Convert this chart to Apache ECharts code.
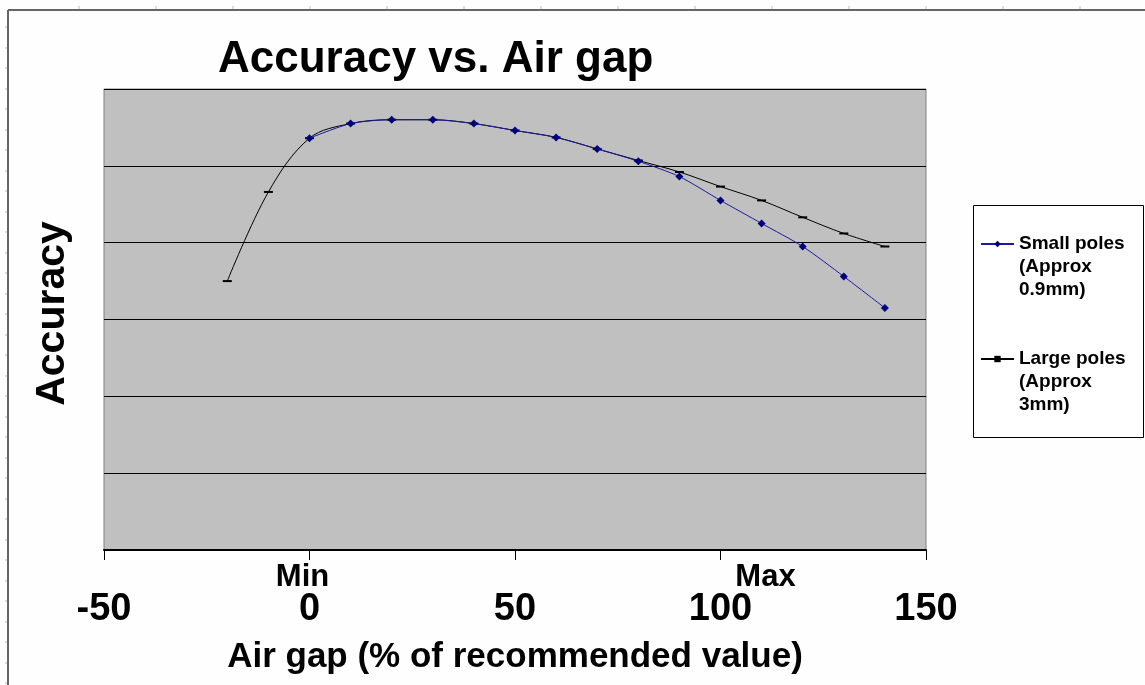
<!DOCTYPE html>
<html>
<head>
<meta charset="utf-8">
<script src="https://cdn.jsdelivr.net/npm/echarts@6/dist/echarts.min.js"></script>
<style>
html,body{margin:0;padding:0;background:#fefefe;}
#c{width:1145px;height:685px;}
</style>
</head>
<body>
<div id="c"></div>
<script>
// ---- data ----
const chartTitle = 'Accuracy vs. Air gap';
const xName = 'Air gap (% of recommended value)';
const yName = 'Accuracy';
const xTickNotes = { 0: 'Min', 100: 'Max' };
const smallName = 'Small poles\n(Approx\n0.9mm)';
const largeName = 'Large poles\n(Approx\n3mm)';
const largeX = [-20, -10, 0, 10, 20, 30, 40, 50, 60, 70, 80, 90, 100, 110, 120, 130, 140];
const largeY = [35.0, 46.6, 53.6, 55.5, 56.0, 56.0, 55.5, 54.6, 53.7, 52.2, 50.7, 49.2, 47.3, 45.5, 43.3, 41.2, 39.5];
const smallX = [0, 10, 20, 30, 40, 50, 60, 70, 80, 90, 100, 110, 120, 130, 140];
const smallY = [53.6, 55.5, 56.0, 56.0, 55.5, 54.6, 53.7, 52.2, 50.6, 48.6, 45.5, 42.5, 39.5, 35.6, 31.5];

const FONT = '"Liberation Sans", Arial, sans-serif';
const chart = echarts.init(document.getElementById('c'), null, { renderer: 'canvas' });

const graphics = [];
// outer frame
graphics.push({ type: 'line', shape: { x1: 8, y1: 10, x2: 1145, y2: 10 }, style: { stroke: '#666', lineWidth: 2 }, silent: true });
graphics.push({ type: 'line', shape: { x1: 8, y1: 10, x2: 8, y2: 685 }, style: { stroke: '#666', lineWidth: 2 }, silent: true });
for (let x = 79; x < 1145; x += 77) {
  graphics.push({ type: 'line', shape: { x1: x, y1: 6, x2: x, y2: 9 }, style: { stroke: '#bbb', lineWidth: 1 }, silent: true });
}
for (let y = 27; y < 685; y += 20.5) {
  graphics.push({ type: 'line', shape: { x1: 5, y1: Math.round(y), x2: 7, y2: Math.round(y) }, style: { stroke: '#bbb', lineWidth: 1 }, silent: true });
}
// legend box
graphics.push({ type: 'rect', shape: { x: 973.5, y: 205.5, width: 170, height: 232 }, style: { fill: '#ffffff', stroke: '#000', lineWidth: 1 }, z: -1, silent: true });

const noteStyle = { fontFamily: FONT, fontSize: 31, fontWeight: 'bold', color: '#000', lineHeight: 36 };

const option = {
  backgroundColor: '#fefefe',
  animation: false,
  textStyle: { fontFamily: FONT },
  title: {
    text: chartTitle,
    left: 213, top: 33,
    textStyle: { fontFamily: FONT, fontSize: 44, fontWeight: 'bold', color: '#000' }
  },
  graphic: graphics,
  legend: {
    data: [smallName, largeName],
    orient: 'vertical',
    left: 980, top: 204.5,
    padding: 0,
    itemGap: 20,
    itemWidth: 33, itemHeight: 8,
    formatter: function (name) {
      return '{g| }\n' + name.split('\n').map(function (l) { return '{t|' + l + '}'; }).join('\n');
    },
    textStyle: {
      fontFamily: FONT, fontSize: 19, fontWeight: 'bold', color: '#000',
      rich: {
        g: { fontSize: 10, lineHeight: 46 },
        t: { fontFamily: FONT, fontSize: 19, fontWeight: 'bold', color: '#000', lineHeight: 23 }
      }
    }
  },
  grid: {
    left: 104, right: 219, top: 89, bottom: 135,
    show: true, backgroundColor: '#c0c0c0', borderColor: '#808080', borderWidth: 1,
    containLabel: false
  },
  xAxis: {
    type: 'value', min: -50, max: 150, interval: 50,
    name: xName, nameLocation: 'middle', nameGap: 90,
    nameTextStyle: { fontFamily: FONT, fontSize: 35, fontWeight: 'bold', color: '#000' },
    axisLine: { show: true, onZero: false, lineStyle: { color: '#000', width: 2 } },
    axisTick: { show: true, length: 10, lineStyle: { color: '#000', width: 1 } },
    splitLine: { show: false },
    axisLabel: {
      margin: 9, hideOverlap: false, showMinLabel: true, showMaxLabel: true,
      formatter: function (v) {
        const n = xTickNotes[v];
        const key = v === 0 ? 'sMin' : (v === 100 ? 'sMax' : 's');
        return '{' + key + '|' + (n || ' ') + '}\n{b|' + v + '}';
      },
      rich: {
        s: noteStyle,
        sMin: Object.assign({}, noteStyle, { padding: [0, 14, 0, 0] }),
        sMax: Object.assign({}, noteStyle, { padding: [0, 0, 0, 90] }),
        b: { fontFamily: FONT, fontSize: 38, fontWeight: 'bold', color: '#000', lineHeight: 30 }
      }
    }
  },
  yAxis: {
    type: 'value', min: 0, max: 60, interval: 10,
    name: yName, nameLocation: 'middle', nameGap: 31, nameRotate: 90,
    nameTextStyle: { fontFamily: FONT, fontSize: 41, fontWeight: 'bold', color: '#000', padding: [0, 0, 0, 12] },
    axisLine: { show: false }, axisTick: { show: false }, axisLabel: { show: false },
    splitLine: { show: true, lineStyle: { color: '#000', width: 1 } }
  },
  series: [
    {
      name: largeName, type: 'line',
      data: largeX.map((x, i) => [x, largeY[i]]),
      smooth: 0.35,
      symbol: 'rect', symbolSize: [9, 2],
      itemStyle: { color: '#000' },
      lineStyle: { color: '#000', width: 1 },
      z: 2
    },
    {
      name: smallName, type: 'line',
      data: smallX.map((x, i) => [x, smallY[i]]),
      smooth: 0.25,
      symbol: 'diamond', symbolSize: 8,
      itemStyle: { color: '#000080' },
      lineStyle: { color: '#1a1aa0', width: 1 },
      z: 3
    }
  ]
};
chart.setOption(option);
</script>
</body>
</html>
